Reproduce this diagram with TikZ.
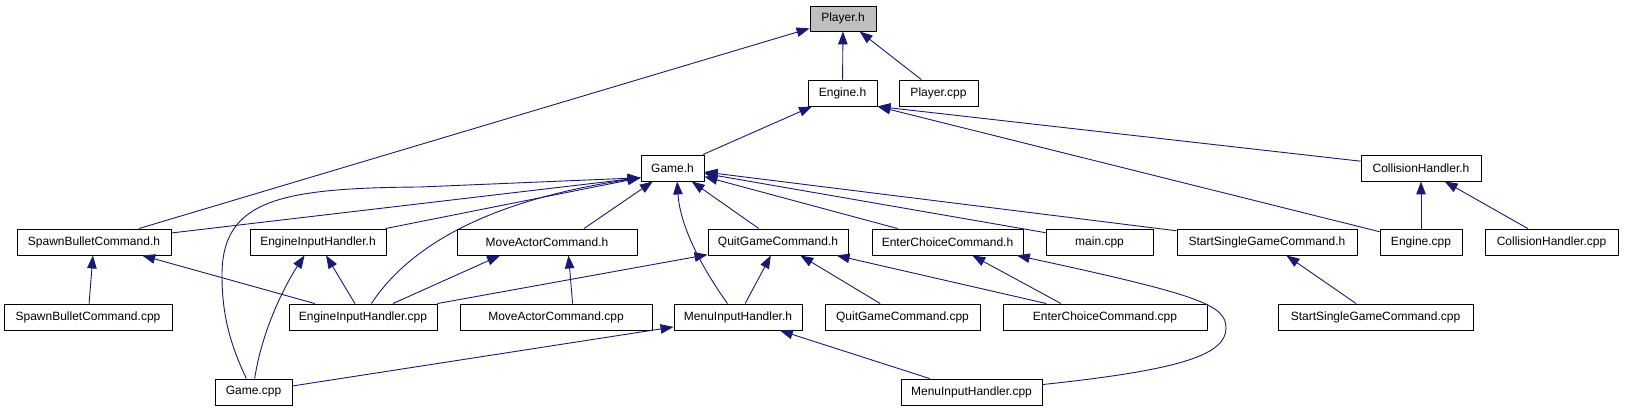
\documentclass[tikz,border=0pt]{standalone}
\usepackage{fontspec}
\setmainfont{Liberation Sans}
\usetikzlibrary{arrows.meta}
\definecolor{edgeblue}{RGB}{25,25,112}
\definecolor{hdrgray}{RGB}{191,191,191}

\begin{document}
\begin{tikzpicture}[x=1pt, y=-1pt,
    every node/.style={font=\fontsize{12}{14}\selectfont},
    box/.style={draw=black, line width=0.9pt, fill=white, inner sep=0pt, minimum height=26pt},
    inc/.style={-{Triangle[length=13pt,width=9.5pt]}, draw=edgeblue, line width=0.9pt}]
  \useasboundingbox (0,0) rectangle (1651,411);
  % top rows
  \node[box, fill=hdrgray, minimum width=66pt, minimum height=25pt] (playerh) at (843,18.5) {Player.h};
  \node[box, minimum width=69pt] (engineh) at (842.5,93) {Engine.h};
  \node[box, minimum width=79pt] (playercpp) at (938.5,93) {Player.cpp};
  \node[box, minimum width=63pt] (gameh) at (672.5,168) {Game.h};
  \node[box, minimum width=120pt] (collh) at (1421,168) {CollisionHandler.h};
  % headers
  \node[box, minimum width=154pt] (spawnh) at (94,242) {SpawnBulletCommand.h};
  \node[box, minimum width=136pt] (eihh) at (318,242) {EngineInputHandler.h};
  \node[box, minimum width=180pt] (moveh) at (547,242) {MoveActorCommand.h};
  \node[box, minimum width=140pt] (quith) at (778,242) {QuitGameCommand.h};
  \node[box, minimum width=151pt] (enterh) at (947.5,242) {EnterChoiceCommand.h};
  \node[box, minimum width=107pt] (maincpp) at (1099.5,242) {main.cpp};
  \node[box, minimum width=180pt] (starth) at (1267,242) {StartSingleGameCommand.h};
  \node[box, minimum width=82pt] (enginecpp) at (1421,242) {Engine.cpp};
  \node[box, minimum width=133pt] (collcpp) at (1551.5,242) {CollisionHandler.cpp};
  % sources
  \node[box, minimum width=168pt] (spawncpp) at (88,317) {SpawnBulletCommand.cpp};
  \node[box, minimum width=148pt] (eihcpp) at (363,317) {EngineInputHandler.cpp};
  \node[box, minimum width=192pt] (movecpp) at (556,317) {MoveActorCommand.cpp};
  \node[box, minimum width=128pt] (menuh) at (738,317) {MenuInputHandler.h};
  \node[box, minimum width=155pt] (quitcpp) at (902.5,317) {QuitGameCommand.cpp};
  \node[box, minimum width=204pt] (entercpp) at (1105,317) {EnterChoiceCommand.cpp};
  \node[box, minimum width=195pt] (startcpp) at (1375.5,317) {StartSingleGameCommand.cpp};
  \node[box, minimum width=77pt] (gamecpp) at (253.5,392) {Game.cpp};
  \node[box, minimum width=141pt] (menucpp) at (971.5,392) {MenuInputHandler.cpp};

  \draw[inc] (spawnh) -- (playerh);
  \draw[inc] (engineh) -- (playerh);
  \draw[inc] (playercpp) -- (playerh);
  \draw[inc] (gameh) -- (engineh);
  \draw[inc] (enginecpp) -- (engineh.south east);
  \draw[inc] (collh) -- (engineh.south east);
  \draw[inc] (spawnh) -- (gameh.197);
  \draw[inc] (eihh) -- (gameh.197);
  \draw[inc] (gamecpp.118) .. controls (228,340) and (222,310) .. (222,275) .. controls (222,200) and (280,188) .. (420,187) -- (gameh.197);
  \draw[inc] (eihcpp.58) .. controls (410,245) and (490,200) .. (gameh.197);
  \draw[inc] (moveh.20) -- (gameh);
  \draw[inc] (menuh.128) .. controls (700,265) and (680,225) .. (gameh.289);
  \draw[inc] (quith) -- (gameh);
  \draw[inc] (enterh) -- (gameh);
  \draw[inc] (maincpp) -- (gameh);
  \draw[inc] (starth) -- (gameh);
  \draw[inc] (enginecpp) -- (collh);
  \draw[inc] (collcpp) -- (collh);
  \draw[inc] (spawncpp) -- (spawnh);
  \draw[inc] (eihcpp) -- (spawnh);
  \draw[inc] (eihcpp) -- (eihh);
  \draw[inc] (gamecpp.85) .. controls (262,330) and (285,285) .. (eihh.225);
  \draw[inc] (eihcpp) -- (moveh.196);
  \draw[inc] (movecpp.39) -- (moveh.328);
  \draw[inc] (eihcpp) -- (quith);
  \draw[inc] (menuh) -- (quith);
  \draw[inc] (quitcpp) -- (quith);
  \draw[inc] (entercpp) -- (quith);
  \draw[inc] (entercpp.163) -- (enterh);
  \draw[inc] (menucpp.6) .. controls (1180,370) and (1226,355) .. (1226,328) .. controls (1226,305) and (1200,295) .. (enterh.-11);
  \draw[inc] (startcpp) -- (starth);
  \draw[inc] (gamecpp) -- (menuh);
  \draw[inc] (menucpp) -- (menuh);
\end{tikzpicture}
\end{document}
